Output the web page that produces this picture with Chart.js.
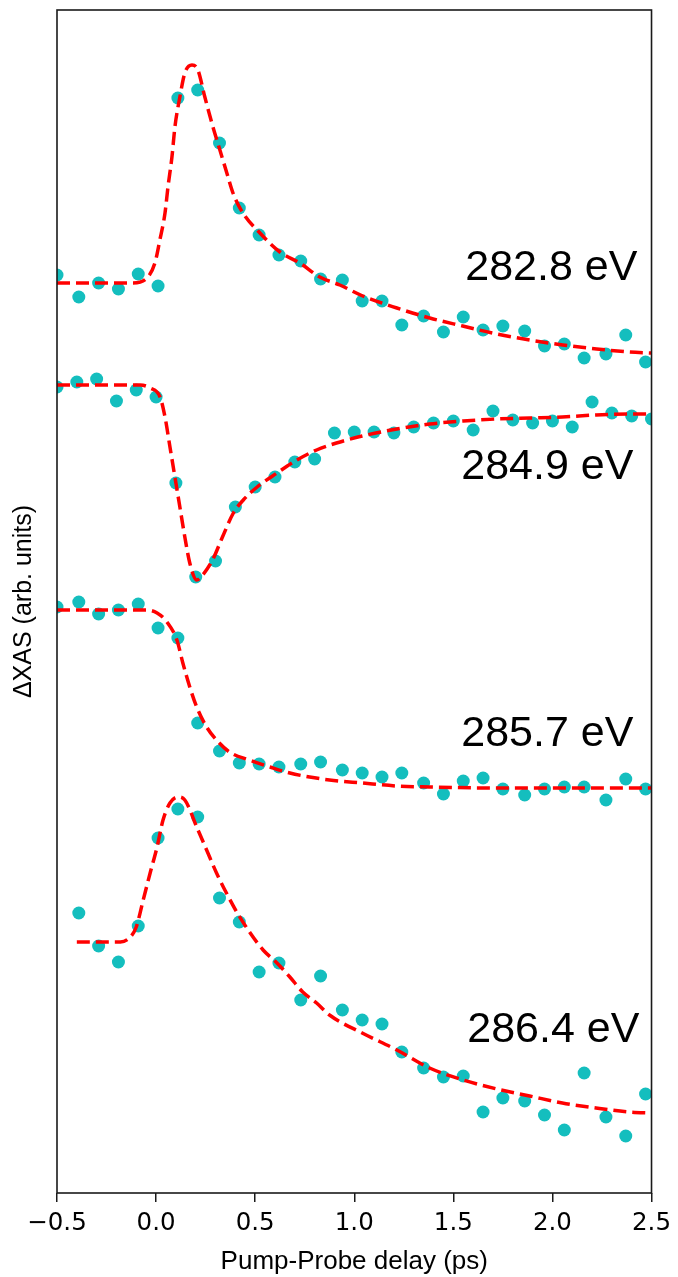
<!DOCTYPE html>
<html>
<head>
<meta charset="utf-8">
<script src="https://cdn.jsdelivr.net/npm/chart.js@4/dist/chart.umd.min.js"></script>
<style>
body { margin: 0; background: #fff; }
canvas { display: block; }
</style>
</head>
<body>
<canvas id="myChart" width="678" height="1277"></canvas>
<script>
// delays (ps) of the measured points
var delayA = [-0.50, -0.39, -0.29, -0.19, -0.09, 0.01, 0.11, 0.21, 0.32, 0.42, 0.52, 0.62, 0.73, 0.83, 0.94,
 1.04, 1.14, 1.24, 1.35, 1.45, 1.55, 1.65, 1.75, 1.86, 1.96, 2.06, 2.16, 2.27, 2.37, 2.47];
var delayB = [-0.5, -0.4, -0.3, -0.2, -0.1, 0.0, 0.1, 0.2, 0.3, 0.4, 0.5, 0.6, 0.7, 0.8, 0.9, 1.0,
 1.1, 1.2, 1.3, 1.4, 1.5, 1.6, 1.7, 1.8, 1.9, 2.0, 2.1, 2.2, 2.3, 2.4, 2.5];
var delayD = [-0.39, -0.29, -0.19, -0.09, 0.01, 0.11, 0.21, 0.32, 0.42, 0.52, 0.62, 0.73, 0.83, 0.94,
 1.04, 1.14, 1.24, 1.35, 1.45, 1.55, 1.65, 1.75, 1.86, 1.96, 2.06, 2.16, 2.27, 2.37, 2.47];

// measured dXAS (offset traces, arb. units)
var sig_2828 = [9.18, 8.96, 9.10, 9.04, 9.19, 9.07, 10.95, 11.03, 10.50, 9.85, 9.58, 9.38, 9.32, 9.14, 9.13,
 8.92, 8.92, 8.68, 8.77, 8.61, 8.76, 8.63, 8.67, 8.62, 8.47, 8.49, 8.35, 8.39, 8.58, 8.31];
var sig_2849 = [8.06, 8.11, 8.14, 7.92, 8.03, 7.96, 7.10, 6.16, 6.32, 6.86, 7.06, 7.16, 7.31, 7.34, 7.60, 7.61,
 7.61, 7.60, 7.66, 7.70, 7.72, 7.63, 7.82, 7.73, 7.70, 7.72, 7.66, 7.91, 7.80, 7.77, 7.74];
var sig_2857 = [5.86, 5.91, 5.79, 5.83, 5.89, 5.65, 5.55, 4.70, 4.42, 4.30, 4.29, 4.26, 4.29, 4.31, 4.23,
 4.20, 4.16, 4.20, 4.10, 3.99, 4.12, 4.15, 4.04, 3.98, 4.04, 4.06, 4.06, 3.93, 4.14, 4.04];
var sig_2864 = [2.80, 2.47, 2.31, 2.67, 3.55, 3.84, 3.76, 2.95, 2.71, 2.21, 2.30, 1.93, 2.17, 1.83,
 1.73, 1.69, 1.41, 1.25, 1.16, 1.17, 0.81, 0.95, 0.92, 0.78, 0.63, 1.20, 0.76, 0.57, 0.99];

// fit curves
var fitX_2828 = [-0.50, -0.117, -0.046, -0.006, 0.019, 0.045, 0.060, 0.080, 0.095, 0.120, 0.145, 0.181, 0.211, 0.246,
 0.287, 0.322, 0.357, 0.388, 0.438, 0.524, 0.625, 0.725, 0.826, 0.927, 1.043, 1.215, 1.381, 1.547, 1.719, 1.885,
 2.052, 2.223, 2.389, 2.50];
var fitY_2828 = [9.10, 9.10, 9.15, 9.30, 9.53, 9.80, 10.06, 10.36, 10.66, 10.96, 11.20, 11.28, 11.23, 10.96,
 10.66, 10.43, 10.20, 10.00, 9.80, 9.60, 9.41, 9.30, 9.16, 9.08, 8.97, 8.85, 8.75, 8.67, 8.59, 8.53,
 8.48, 8.44, 8.41, 8.40];
var fitX_2849 = [-0.50, -0.08, -0.03, 0.02, 0.045, 0.07, 0.095, 0.12, 0.145, 0.17, 0.205, 0.235, 0.285, 0.335, 0.39,
 0.44, 0.51, 0.61, 0.71, 0.81, 0.91, 1.04, 1.215, 1.38, 1.55, 1.72, 1.885, 2.05, 2.22, 2.39, 2.50];
var fitY_2849 = [8.08, 8.08, 8.05, 7.96, 7.76, 7.46, 7.16, 6.86, 6.56, 6.30, 6.13, 6.18, 6.33, 6.56, 6.80,
 6.93, 7.06, 7.20, 7.33, 7.43, 7.50, 7.57, 7.64, 7.69, 7.72, 7.74, 7.75, 7.76, 7.78, 7.79, 7.79];
var fitX_2857 = [-0.50, -0.05, 0.005, 0.055, 0.105, 0.135, 0.17, 0.205, 0.255, 0.305, 0.37, 0.47, 0.575, 0.675,
 0.775, 0.875, 1.04, 1.215, 1.38, 1.72, 2.05, 2.50];
var fitY_2857 = [5.83, 5.83, 5.80, 5.71, 5.53, 5.30, 5.06, 4.86, 4.66, 4.53, 4.41, 4.33, 4.26, 4.20,
 4.16, 4.13, 4.10, 4.07, 4.06, 4.05, 4.05, 4.05];
var fitX_2864 = [-0.40, -0.18, -0.13, -0.10, -0.065, -0.03, 0.005, 0.035, 0.07, 0.11, 0.145, 0.205, 0.255, 0.305,
 0.355, 0.41, 0.475, 0.54, 0.61, 0.675, 0.74, 0.81, 0.875, 1.04, 1.215, 1.38, 1.55, 1.72, 1.885, 2.05, 2.22, 2.39, 2.50];
var fitY_2864 = [2.51, 2.51, 2.56, 2.66, 2.93, 3.20, 3.46, 3.73, 3.90, 3.96, 3.93, 3.66, 3.43, 3.20,
 3.00, 2.80, 2.60, 2.43, 2.30, 2.16, 2.01, 1.90, 1.78, 1.60, 1.43, 1.25, 1.13, 1.04, 0.97, 0.90, 0.85, 0.81, 0.80];

// energy labels (placed in data coordinates)
var labelText = ['282.8 eV', '284.9 eV', '285.7 eV', '286.4 eV'];
var labelX = [1.56, 1.54, 1.54, 1.57];
var labelY = [9.13, 7.14, 4.47, 1.51];

var xTicks = [-0.5, 0.0, 0.5, 1.0, 1.5, 2.0, 2.5];

var teal = '#14BEBE';
var red = '#FF0000';

function toPoints( xs, ys )
{
	var pts = [];
	for( var i=0; i<xs.length; i++ )
		pts.push({ x: xs[i], y: ys[i] });
	return pts;
}

function fitSet( xs, ys )
{
	return {
		data: toPoints(xs, ys),
		showLine: true,
		borderColor: red,
		borderWidth: 3.5,
		borderDash: [13, 6],
		pointRadius: 0,
		cubicInterpolationMode: 'monotone',
		order: 0
	};
}

function pointSet( xs, ys )
{
	return {
		data: toPoints(xs, ys),
		showLine: false,
		backgroundColor: teal,
		borderWidth: 0,
		pointRadius: 6.5,
		order: 1
	};
}

// frame around the axes and the energy labels
var framePlugin = {
	id: 'frame',
	afterDatasetsDraw: function(chart) {
		var a = chart.chartArea;
		var ctx = chart.ctx;
		var xs = chart.scales.x;
		var ys = chart.scales.y;
		ctx.save();
		ctx.strokeStyle = '#1a1a1a';
		ctx.lineWidth = 1.6;
		ctx.strokeRect(a.left, a.top, a.right - a.left, a.bottom - a.top);
		ctx.fillStyle = '#000';
		ctx.font = '43px "Liberation Sans", Arial, sans-serif';
		ctx.textAlign = 'left';
		ctx.textBaseline = 'alphabetic';
		for( var i=0; i<labelText.length; i++ )
			ctx.fillText(labelText[i], xs.getPixelForValue(labelX[i]), ys.getPixelForValue(labelY[i]));
		ctx.restore();
	}
};

var ctx = document.getElementById('myChart').getContext('2d');

var myChart = new Chart(ctx, {
	type: 'scatter',
	data: {
		datasets: [
			fitSet(fitX_2828, fitY_2828),
			fitSet(fitX_2849, fitY_2849),
			fitSet(fitX_2857, fitY_2857),
			fitSet(fitX_2864, fitY_2864),
			pointSet(delayA, sig_2828),
			pointSet(delayB, sig_2849),
			pointSet(delayA, sig_2857),
			pointSet(delayD, sig_2864)
		]
	},
	options: {
		responsive: false,
		animation: false,
		devicePixelRatio: 1,
		layout: { padding: { top: 10, right: 26, left: 0, bottom: 0 } },
		plugins: {
			legend: { display: false },
			tooltip: { enabled: false }
		},
		scales: {
			x: {
				type: 'linear',
				min: -0.5,
				max: 2.5,
				afterFit: function(scale) { scale.height = 84; },
				afterBuildTicks: function(scale) {
					scale.ticks = xTicks.map(function(v) { return { value: v }; });
				},
				border: { display: false },
				grid: {
					drawOnChartArea: false,
					drawTicks: true,
					tickLength: 9,
					color: '#1a1a1a',
					lineWidth: 1.5
				},
				ticks: {
					autoSkip: false,
					maxRotation: 0,
					padding: 7,
					color: '#000',
					font: { family: '"DejaVu Sans"', size: 24.5 },
					callback: function(v) {
						return (v < 0 ? '\u2212' : '') + Math.abs(v).toFixed(1);
					}
				},
				title: {
					display: true,
					text: 'Pump-Probe delay (ps)',
					color: '#000',
					font: { family: '"Liberation Sans", Arial', size: 26, lineHeight: 1.2 },
					padding: { top: 0, bottom: 0 }
				}
			},
			y: {
				type: 'linear',
				min: 0,
				max: 11.83,
				afterFit: function(scale) { scale.width = 57; },
				border: { display: false },
				grid: { display: false },
				ticks: { display: false },
				title: {
					display: true,
					text: '\u0394XAS (arb. units)',
					color: '#000',
					font: { family: '"Liberation Sans", Arial', size: 25, lineHeight: 1.2 },
					padding: { top: 9, bottom: 0 }
				}
			}
		}
	},
	plugins: [framePlugin]
});
</script>
</body>
</html>
